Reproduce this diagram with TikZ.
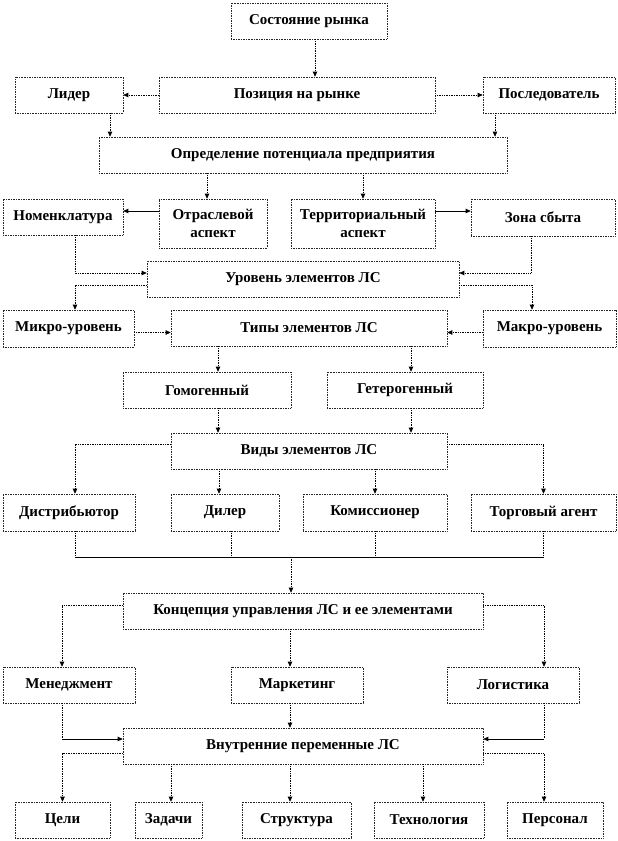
\documentclass[tikz,border=0pt]{standalone}
\usepackage{fontspec}
\setmainfont{Liberation Serif}
\usepackage{tikz}
\usetikzlibrary{arrows.meta, calc}

\begin{document}
\begin{tikzpicture}[x=1pt, y=-1pt,
  box/.style={draw=black!85, densely dotted, line width=0.65pt, minimum height=36,
    inner sep=2pt, align=center, font=\bfseries\fontsize{15}{18}\selectfont},
  link/.style={densely dotted, line width=0.7pt},
  arr/.style={link, -{Triangle[length=5pt, width=4.5pt]}},
  sarr/.style={line width=0.7pt, -{Triangle[length=5pt, width=4.5pt]}}]
\useasboundingbox (0,0) rectangle (618,841);
% market position
\node[box, minimum width=156] (state) at (309,21) {Состояние рынка};
\node[box, minimum width=108] (leader) at (69,95) {Лидер};
\node[box, minimum width=276] (pos) at (297,95) {Позиция на рынке};
\node[box, minimum width=132] (follower) at (549,95) {Последователь};
\node[box, minimum width=408] (potential) at (303,155) {Определение потенциала предприятия};
\node[box, minimum width=120] (nomen) at (63,217) {Номенклатура};
\node[box, minimum width=108, minimum height=49] (branch) at (213,223.5) {Отраслевой\\аспект};
\node[box, minimum width=144, minimum height=49] (terr) at (363,223.5) {Территориальный\\аспект};
\node[box, minimum width=144, minimum height=37] (zone) at (543,217.5) {Зона сбыта};
% levels, types and kinds
\node[box, minimum width=312] (level) at (303,279) {Уровень элементов ЛС};
\node[box, minimum width=131, minimum height=37] (micro) at (68.5,328.5) {Микро-уровень};
\node[box, minimum width=276] (types) at (309,328) {Типы элементов ЛС};
\node[box, minimum width=133, minimum height=37] (macro) at (549.5,328.5) {Макро-уровень};
\node[box, minimum width=168] (homo) at (207,390) {Гомогенный};
\node[box, minimum width=156] (hetero) at (405,390) {Гетерогенный};
\node[box, minimum width=276] (kinds) at (309,451) {Виды элементов ЛС};
\node[box, minimum width=132, minimum height=37] (distr) at (69,512.5) {Дистрибьютор};
\node[box, minimum width=108, minimum height=37] (dealer) at (225,512.5) {Дилер};
\node[box, minimum width=144, minimum height=37] (comm) at (375,512.5) {Комиссионер};
\node[box, minimum width=145, minimum height=37] (agent) at (543.5,512.5) {Торговый агент};
% management
\node[box, minimum width=360] (concept) at (303,611) {Концепция управления ЛС и ее элементами};
\node[box, minimum width=132] (mgmt) at (69,685) {Менеджмент};
\node[box, minimum width=132] (mkt) at (297,685) {Маркетинг};
\node[box, minimum width=132] (logi) at (513,685) {Логистика};
\node[box, minimum width=360] (inner) at (303,746) {Внутренние переменные ЛС};
\node[box, minimum width=95] (goals) at (62.5,820) {Цели};
\node[box, minimum width=67] (tasks) at (168.5,820) {Задачи};
\node[box, minimum width=109] (struct) at (296.5,820) {Структура};
\node[box, minimum width=110] (tech) at (429,820) {Технология};
\node[box, minimum width=96] (staff) at (555,820) {Персонал};
\coordinate (bus) at (291,557);
\coordinate (inW) at ([yshift=7]inner.west);
\coordinate (inE) at ([yshift=7]inner.east);

% top part
\draw[arr] ([xshift=6]state.south) -- ([xshift=6]state.south |- pos.north);
\draw[arr] (pos.west) -- (leader.east);
\draw[arr] (pos.east) -- (follower.west);
\draw[arr] ([xshift=41]leader.south) -- ([xshift=41]leader.south |- potential.north);
\draw[arr] ([xshift=-54]follower.south) -- ([xshift=-54]follower.south |- potential.north);
\draw[arr] ([xshift=-6]branch.north |- potential.south) -- ([xshift=-6]branch.north);
\draw[arr] (terr.north |- potential.south) -- (terr.north);
\draw[sarr] ([yshift=6]nomen.east -| branch.west) -- ([yshift=6]nomen.east);
\draw[sarr] ([yshift=6.5]zone.west -| terr.east) -- ([yshift=6.5]zone.west);
\draw[arr] ([xshift=12]nomen.south) |- ([yshift=6]level.west);
\draw[arr] ([xshift=-12]zone.south) |- ([yshift=6]level.east);
\draw[arr] ([yshift=-6]level.west) -| ([xshift=6.5]micro.north);
\draw[arr] ([yshift=-6]level.east) -| ([xshift=-17.5]macro.north);
\draw[arr] ([yshift=-4]micro.east) -- ([yshift=-4]micro.east -| types.west);
\draw[arr] ([yshift=-4]macro.west) -- ([yshift=-4]macro.west -| types.east);
\draw[arr] ([xshift=11]homo.north |- types.south) -- ([xshift=11]homo.north);
\draw[arr] ([xshift=6]hetero.north |- types.south) -- ([xshift=6]hetero.north);
\draw[arr] ([xshift=11]homo.south) -- ([xshift=11]homo.south |- kinds.north);
\draw[arr] ([xshift=6]hetero.south) -- ([xshift=6]hetero.south |- kinds.north);
% kinds of elements
\draw[arr] ([yshift=7]kinds.west) -| ([xshift=6]distr.north);
\draw[arr] ([yshift=7]kinds.east) -| (agent.north);
\draw[arr] ([xshift=-6]dealer.north |- kinds.south) -- ([xshift=-6]dealer.north);
\draw[arr] (comm.north |- kinds.south) -- (comm.north);
\draw[link] ([xshift=6]distr.south) -- ([xshift=6]distr.south |- bus);
\draw[link] ([xshift=6]dealer.south) -- ([xshift=6]dealer.south |- bus);
\draw[link] (comm.south) -- (comm.south |- bus);
\draw[link] (agent.south) -- (agent.south |- bus);
\draw[line width=0.7pt] ([xshift=6]distr.south |- bus) -- (agent.south |- bus);
\draw[arr] (bus) -- (bus |- concept.north);
% concept and inner variables
\draw[arr] ([yshift=6]concept.west) -| ([xshift=-7]mgmt.north);
\draw[arr] ([yshift=6]concept.east) -| ([xshift=31]logi.north);
\draw[arr] ([xshift=-7]mkt.north |- concept.south) -- ([xshift=-7]mkt.north);
\draw[link] ([xshift=-7]mgmt.south) -- ([xshift=-7]mgmt.south |- inW);
\draw[sarr] ([xshift=-7]mgmt.south |- inW) -- (inW);
\draw[link] ([xshift=31]logi.south) -- ([xshift=31]logi.south |- inE);
\draw[sarr] ([xshift=31]logi.south |- inE) -- (inE);
\draw[arr] ([xshift=-7]mkt.south) -- ([xshift=-7]mkt.south |- inner.north);
\draw[arr] ([yshift=-7]inner.west) -| (goals.north);
\draw[arr] ([yshift=-7]inner.east) -| ([xshift=-11]staff.north);
\draw[arr] ([xshift=2.5]tasks.north |- inner.south) -- ([xshift=2.5]tasks.north);
\draw[arr] ([xshift=-6.5]struct.north |- inner.south) -- ([xshift=-6.5]struct.north);
\draw[arr] ([xshift=-6]tech.north |- inner.south) -- ([xshift=-6]tech.north);
\end{tikzpicture}
\end{document}
